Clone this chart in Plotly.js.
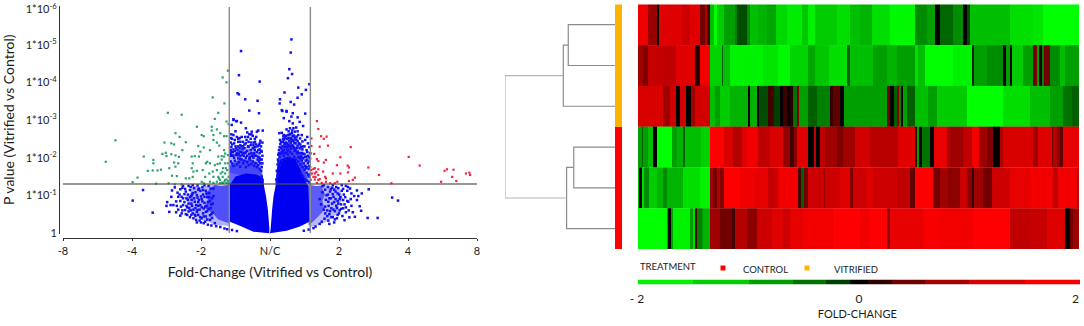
<!DOCTYPE html>
<html><head><meta charset="utf-8">
<script src="https://cdn.plot.ly/plotly-3.0.1.min.js"></script>
<style>html,body{margin:0;padding:0;background:#fff}</style></head>
<body><div id="chart" style="width:1084px;height:326px"></div>
<script>
// ---------- Volcano data: x = signed log2 fold-change, y = -log10(p) ----------
const volcanoTickPos = [-3,-2,-1,0,1,2,3];
const volcanoTickText = ['-8','-4','-2','N/C','2','4','8'];
const pTickPos = [0,1,2,3,4,5,5.94];
const pTickText = ['1','1*10<sup>-1</sup>','1*10<sup>-2</sup>','1*10<sup>-3</sup>','1*10<sup>-4</sup>','1*10<sup>-5</sup>','1*10<sup>-6</sup>'];
const foldCut = [-0.59,0.585];
const pCut = 1.3;

const greenPoints = [[-2.38,1.89],[-2.24,2.46],[-1.99,1.35],[-1.92,1.47],[-1.83,2.03],[-1.77,1.65],[-1.7,1.66],[-1.69,1.94],[-1.69,1.85],[-1.63,1.66],[-1.65,1.31],[-1.58,1.68],[-1.56,2.1],[-1.51,2.13],[-1.53,2.4],[-1.48,3.19],[-1.28,3.14],[-1.43,2.38],[-1.39,2.35],[-1.37,2.65],[-1.31,2.55],[-1.22,2.41],[-1.06,2.82],[-.99,2.6],[-.96,2.57],[-1.04,2.31],[-.96,2.27],[-.845,2.82],[-.83,3.6],[-.75,3.19],[-.8,3.03],[-.686,4.13],[-.61,4.31],[-.63,4],[-.66,3.44],[-.63,2.96],[-.6,2.89],[-.845,2.72],[-.77,2.75],[-.82,2.6],[-.72,2.65],[-.665,2.57],[-.63,2.57],[-.82,2.47],[-.77,2.4],[-.735,2.32],[-.87,2.2],[-.665,2.2],[-.7,2.04],[-.75,2.03],[-.65,2.11],[-.61,2.07],[-1.5,2.04],[-1.43,2.09],[-1.37,2.06],[-1.39,1.87],[-1.33,1.85],[-1.32,2.02],[-1.27,2.2],[-1.46,1.72],[-1.37,1.76],[-1.42,1.52],[-1.35,1.51],[-1.47,1.32],[-1.38,1.29],[-1.28,1.29],[-1.22,1.45],[-1.17,1.45],[-1.12,1.49],[-1.135,2.03],[-1.09,2.04],[-1.03,2.03],[-1.12,1.85],[-1.135,1.72],[-1.11,1.63],[-1.06,1.65],[-1.01,2.16],[-.975,1.67],[-.93,1.85],[-.91,1.89],[-.87,1.85],[-.94,1.49],[-.99,1.36],[-.96,1.32],[-.88,1.58],[-.83,1.63],[-.8,1.8],[-.76,1.83],[-.725,1.85],[-.7,1.95],[-.665,2.03],[-.82,1.49],[-.77,1.67],[-.75,1.49],[-.715,1.58],[-.68,1.72],[-.65,1.85],[-.61,1.85],[-.87,1.36],[-.82,1.33],[-.77,1.36],[-.725,1.41],[-.686,1.49],[-.65,1.58],[-.62,1.67],[-.6,1.49],[-.68,1.33],[-.63,1.33],[-.59,1.36],[-.725,1.32],[-.65,1.41],[-.6,1.32],[-.7,1.34],[-.66,1.36],[-.63,1.42],[-.61,1.38],[-.74,1.45],[-.69,1.62],[-.64,1.72]];

const redPoints = [[.68,2.97],[.7,2.76],[.6,2.51],[.74,2.57],[.78,2.5],[.82,2.56],[.84,2.32],[.72,2.29],[.6,2.31],[1.17,2.28],[.59,2.11],[.64,2.1],[1.02,2.01],[2.01,2.02],[.68,1.96],[.7,1.91],[.78,1.87],[.81,1.94],[.97,1.8],[1.125,1.79],[1.145,1.74],[1.425,1.74],[2.17,1.79],[2.53,1.65],[2.565,1.69],[2.66,1.68],[.91,1.58],[1.02,1.58],[1.13,1.61],[1.58,1.54],[2.84,1.58],[2.89,1.6],[2.9,1.54],[2.64,1.49],[2.48,1.36],[2.7,1.38],[1.76,1.32],[.6,1.67],[.63,1.7],[.65,1.72],[.7,1.69],[.61,1.58],[.65,1.58],[.67,1.62],[.63,1.49],[.7,1.54],[.66,1.49],[.77,1.63],[.8,1.49],[.59,1.41],[.65,1.42],[.7,1.41],[.72,1.43],[.81,1.45],[.81,1.36],[.75,1.33],[.68,1.33],[.87,1.32],[.94,1.32],[.975,1.36],[1.145,1.38],[1.2,1.41],[1.23,1.47]];

const blueHigh = [[-.42,4.83],[-.45,4.19],[-.47,3.71],[-.45,3.68],[-.36,3.55],[-.18,3.51],[-.15,4.02],[-.3,3.25],[-.16,3.18],[-.53,3.02],[-.49,2.97],[-.42,2.93],[.31,5.14],[.3,4.79],[.28,4.35],[.32,4.22],[.26,4.11],[.57,3.95],[.41,3.86],[.52,3.8],[.21,3.73],[.46,3.68],[.4,3.59],[.145,3.55],[.3,3.48],[.14,3.44],[.35,3.41],[.18,3.24],[.24,3.24],[.51,3.17],[.33,3.18],[.2,3.05],[.31,3.09],[.4,3.07],[.28,2.97],[.43,2.95],[.33,2.91],[.48,2.84],[.17,3.26],[.24,3.22]];

const blueLeftLobe = [[-.53,3],[-.48,2.97],[-.555,2.87],[-.35,2.78],[-.33,2.67],[-.265,2.69],[-.17,2.72],[-.105,2.72],[-.19,2.69],[-.53,2.6],[-.51,2.47],[-.43,2.33],[-.34,2.47],[-.217,2.42],[-.24,2.33],[-.31,2.29],[-.12,2.16],[-.17,2.2],[-.56,2.62],[-.5,2.7],[-.44,2.52],[-.39,2.42],[-.46,2.42],[-.28,2.5],[-.14,2.45],[-.2,2.55],[-.25,2.58],[-.3,2.62],[-.37,2.35],[-.41,2.55],[-.23,2.27],[-.18,2.3],[-.13,2.3],[-.56,2.15],[-.57,2.4],[-.56,2.28],[-.54,2.15],[-.5,2.3],[-.47,2.2],[-.45,2.1],[-.55,2.05],[-.52,2],[-.49,2.08],[-.46,1.98],[-.42,2.15],[-.4,2.22],[-.38,2.05],[-.36,2.12],[-.33,2.18],[-.3,2.1],[-.28,2.2],[-.26,2.05],[-.23,2.12],[-.2,2.05],[-.18,1.95],[-.15,2],[-.14,1.85],[-.57,1.9],[-.55,1.85],[-.53,1.78],[-.51,1.92],[-.48,1.82],[-.45,1.88],[-.43,1.76],[-.41,1.95],[-.39,1.85],[-.37,1.92],[-.35,1.75],[-.33,1.88],[-.31,1.8],[-.29,1.95],[-.27,1.83],[-.25,1.9],[-.23,1.78],[-.21,1.85],[-.19,1.75],[-.17,1.8],[-.15,1.7],[-.13,1.65],[-.12,1.5],[-.11,1.4],[-.57,2.52],[-.52,2.38],[-.48,2.55],[-.44,2.25],[-.39,2.3],[-.35,2.38],[-.32,2.55],[-.27,2.4],[-.22,2.5],[-.15,2.22],[-.11,1.85],[-.11,2.05],[-.12,1.75],[-.53,2.22],[-.48,2.12],[-.43,2.05],[-.35,2],[-.29,2.02],[-.24,2],[-.16,1.9],[-.22,2.2],[-.4,2.08],[-.57,2.05],[-.57,2.2],[-.57,2.1],[-.55,2.35],[-.53,2.06],[-.51,2.18],[-.49,2.25],[-.47,2.06],[-.46,2.3],[-.44,2.16],[-.43,1.97],[-.41,2.3],[-.39,2.13],[-.37,2.25],[-.35,2.15],[-.33,2.05],[-.32,2.3],[-.3,1.98],[-.28,2.33],[-.27,2.12],[-.25,2.25],[-.24,2.08],[-.22,2.05],[-.21,2.28],[-.19,2.15],[-.17,2.02],[-.16,2.33],[-.15,2.12],[-.14,1.95],[-.13,2.18],[-.12,1.95],[-.46,2.5],[-.36,2.55],[-.27,2.62],[-.55,2.5],[-.43,2.42],[-.31,2.42],[-.23,2.4],[-.2,2.35],[-.15,2.38],[-.11,2.4]];

const blueRightLobe = [[.136,2.65],[.17,2.66],[.194,2.57],[.24,2.75],[.29,2.78],[.34,2.78],[.38,2.8],[.266,2.6],[.315,2.65],[.36,2.69],[.387,2.56],[.435,2.51],[.51,2.47],[.145,2.47],[.184,2.42],[.218,2.38],[.25,2.5],[.28,2.44],[.31,2.52],[.34,2.46],[.37,2.38],[.4,2.44],[.44,2.35],[.47,2.22],[.5,2.3],[.54,2.15],[.57,2.28],[.13,2.2],[.16,2.25],[.19,2.18],[.22,2.28],[.25,2.2],[.27,2.3],[.3,2.24],[.33,2.32],[.36,2.18],[.39,2.26],[.42,2.12],[.45,2.05],[.48,1.98],[.52,1.92],[.55,1.85],[.58,1.98],[.115,1.95],[.14,2.02],[.17,1.92],[.2,2.05],[.23,1.98],[.26,2.08],[.29,2],[.32,2.1],[.35,2.02],[.38,1.95],[.41,1.9],[.44,1.82],[.47,1.75],[.5,1.68],[.53,1.6],[.56,1.7],[.58,1.55],[.1,1.65],[.12,1.72],[.15,1.8],[.45,1.58],[.48,1.5],[.51,1.42],[.54,1.38],[.57,1.35],[.09,1.42],[.11,1.52],[.15,2.36],[.23,2.4],[.3,2.4],[.35,2.58],[.41,2.6],[.2,2.48],[.26,2.33],[.47,2.43],[.55,2.38],[.12,2.08],[.18,2.12],[.24,2.13],[.29,2.15],[.35,2.25],[.4,2.16],[.43,2.25],[.48,2.1],[.53,2.03],[.57,1.78],[.55,1.55],[.51,1.78],[.46,1.92],[.43,2],[.58,2.12],[.11,1.82],[.13,1.58],[.1,1.35],[.27,2.7],[.2,2.6],[.32,2.72],[.4,2.7],[.22,2.52],[.46,2.6],[.54,2.55],[.12,1.9],[.13,2.12],[.14,2.28],[.15,2.1],[.16,2.42],[.17,2.15],[.18,2.3],[.19,2.5],[.2,2.2],[.21,2.35],[.22,2.12],[.23,2.58],[.24,2.28],[.25,2.38],[.26,2.2],[.27,2.52],[.28,2.3],[.29,2.62],[.3,2.5],[.31,2.32],[.32,2.45],[.33,2.58],[.34,2.28],[.35,2.4],[.36,2.52],[.37,2.22],[.38,2.48],[.39,2.12],[.4,2.32],[.41,2.02],[.42,2.38],[.43,2.12],[.44,1.98],[.45,2.28],[.46,2.12],[.47,2],[.48,2.3],[.49,1.85],[.5,2.1],[.51,2.02],[.52,1.72],[.53,2.2],[.54,1.95],[.55,2.05],[.56,1.9],[.57,2.02],[.58,1.75],[.56,1.5],[.53,1.75]];

const blueLeftShoulder = [[-1.99,.86],[-1.84,1.14],[-1.7,.54],[-1.5,.72],[-1.46,.56],[-1.49,.82],[-1.43,.96],[-1.34,1.07],[-1.38,1.21],[-1.4,.74],[-1.33,.96],[-1.26,.74],[-1.23,.61],[-1.18,.57],[-1.11,.39],[-1.07,.35],[-1.21,.92],[-1.16,1.14],[-1.1,1.19],[-1.06,1],[-1.135,.88],[-1.01,.74],[-1.05,.61],[-.97,.52],[-.99,.39],[-.87,.35],[-.94,.3],[-.8,.26],[-1.27,1.2],[-1.22,1.1],[-1.28,.96],[-1.24,1.03],[-1.19,1.02],[-1.14,.98],[-1.18,.78],[-1.13,.72],[-1.09,.83],[-1.08,.66],[-1.15,.6],[-1.12,.52],[-1.04,.48],[-1.03,.88],[-1.01,1.12],[-.98,1.22],[-.97,1.02],[-.99,.9],[-.95,.8],[-.96,.65],[-.93,.44],[-.91,.58],[-.92,.72],[-.91,.95],[-.93,1.12],[-.89,1.25],[-.88,1.06],[-.87,.85],[-.86,.66],[-.85,.5],[-.84,.4],[-.83,.78],[-.82,.98],[-.82,1.18],[-1.33,.62],[-1.28,.52],[-1.36,.84],[-1.3,1.16],[-1.2,.48],[-1.16,.42],[-1.08,.45],[-1.02,.33],[-.96,.26],[-.9,.22],[-.85,.2],[-.78,.18],[-.72,.16],[-.66,.12],[-.62,.1],[-.55,.08],[-.48,.05],[-1.12,1.27],[-1.18,1.25],[-1.05,1.26],[-1.04,1.15],[-1.12,1.06],[-1.2,.68],[-1.04,.72],[-1.3,.85],[-1.26,1.25],[-1.42,1.13],[-.95,1.27],[-1.24,.82],[-1.21,.72],[-1.19,.88],[-1.17,.66],[-1.16,.95],[-1.14,.78],[-1.13,1.02],[-1.11,.62],[-1.1,.92],[-1.09,.48],[-1.08,1.08],[-1.07,.74],[-1.06,.56],[-1.05,.94],[-1.04,.82],[-1.03,1.18],[-1.02,.62],[-1.01,.42],[-1,.97],[-.99,.68],[-.98,.84],[-.97,1.14],[-.96,.44],[-.95,.96],[-.94,.7],[-.93,.56],[-.92,1.05],[-.91,.36],[-.9,.82],[-.89,.64],[-.88,.95],[-.87,.47],[-.86,1.18],[-.85,.76],[-.84,.92],[-.83,.54],[-1.26,.92],[-1.29,.7],[-1.31,1.02],[-1.35,.72],[-1.23,1.17],[-1.15,1.22],[-1.36,.55],[-1.44,.74],[-1.27,.6],[-1.22,.5],[-1.14,.48],[-1.3,.46],[-1.06,.28],[-1,.28]];

const blueRightShoulder = [[1.43,1.16],[1.26,1.13],[1.1,1.25],[1.06,1.17],[.99,1.19],[1.77,.94],[1.855,.86],[1.22,.98],[1.26,.875],[1.17,.9],[1.135,.83],[1.06,.875],[1.01,.9],[1.3,.71],[1.32,.59],[1.15,.415],[1.23,.43],[1.415,.4],[1.56,.4],[1.06,.655],[.98,.48],[.97,.39],[.845,.33],[.75,.3],[.66,.17],[.92,.96],[.87,1.1],[.845,.83],[.8,.7],[.89,.655],[.8,.52],[.82,1],[.84,1.22],[.9,1.2],[.93,.82],[.96,.72],[.86,.5],[.91,.42],[.94,.58],[1,1.02],[1.03,.76],[1.09,.95],[.79,.38],[.83,.6],[.72,.24],[.63,.13],[.56,.09],[.49,.06],[.76,1.24],[.95,1.1],[1.12,1.12],[1.01,.6],[1.1,.55],[.93,.28],[.86,.24],[1.18,1.05],[.98,.85],[.88,.92],[.78,1.27],[.91,1.27],[1.04,1.27],[.72,.9],[.74,.76],[.76,1.08],[.78,.62],[.8,1.15],[.81,.88],[.83,.45],[.84,1.02],[.85,.72],[.86,.92],[.87,.58],[.88,1.16],[.89,.42],[.9,.78],[.91,1.03],[.92,.62],[.93,1.15],[.94,.36],[.95,.9],[.96,1.22],[.97,.66],[.98,1.05],[.99,.78],[1,.52],[1.02,.95],[1.03,.64],[1.04,1.12],[1.05,.45],[1.07,1.02],[1.08,.76],[1.1,.68],[1.12,.85],[1.14,.6],[1.16,1.18],[1.18,.72],[1.2,.55],[1.08,.34],[1.13,1.22],[1.28,.98],[1.33,1.05]];

// Density contours of the cloud: solid, dense, speckled
const denseCoreLeftX = [-.58,-.43,-.24,-.01,-.009,-.03,-.057,-.087,-.095,-.2,-.35,-.5,-.58];
const denseCoreLeftY = [.3,.185,.035,-.01,.12,.61,.96,1.25,1.45,1.55,1.58,1.5,1.28];
const denseCoreRightX = [0,.01,.03,.05,.08,.1,.15,.25,.36,.44,.52,.56,.57,.435,.24];
const denseCoreRightY = [-.01,.12,.61,.96,1.25,1.7,1.95,2.02,1.98,1.7,1.35,1.25,.3,.17,.06];
const midContours = [
  {x:[-.58,-.58,-.42,-.25,-.15,-.11,-.1], y:[1.6,2.15,2.3,2.25,2.1,1.8,1.4], a:.3},
  {x:[.09,.13,.2,.33,.42,.5,.58,.58,.3], y:[1.6,2.2,2.6,2.7,2.45,2.1,1.6,1.3,1.4], a:.3},
  {x:[-.58,-.7,-.85,-1,-1.12,-1.16,-1.24,-1.18,-1.2,-1.08,-1.02,-.9,-.8,-.66,-.58], y:[1.28,1.26,1.28,1.22,1.26,1.05,.95,.75,.6,.48,.36,.3,.22,.2,.18], a:.3},
  {x:[.56,.7,.84,.94,1.02,1.06,1,1.02,.92,.84,.72,.56], y:[1.28,1.25,1.28,1.2,1.14,.9,.72,.56,.44,.32,.22,.15], a:.28},
  {x:[-.58,-.58,-.45,-.3,-.18,-.12,-.09], y:[1.2,1.8,1.95,1.95,1.88,1.6,1.25], a:.6},
  {x:[.09,.11,.17,.3,.38,.47,.55,.5,.3], y:[1.3,1.9,2.3,2.4,2.25,1.9,1.4,1.3,1.4], a:.6},
  {x:[-.58,-.72,-.8,-.94,-.9,-.94,-.82,-.75,-.66,-.58], y:[1.28,1.25,1.28,1.05,.9,.66,.5,.36,.3,.25], a:.55},
  {x:[.56,.66,.74,.8,.76,.79,.7,.62,.56], y:[1.28,1.25,1.26,1.02,.86,.62,.44,.3,.2], a:.5}
];

// ---------- Heatmap: per row, blocks of [end position in gene order, fold-change] ----------
const row0 = [[10,1.85],[19,1.2],[21,0],[34,1.75],[44,1.75],[52,1.6],[62,1.75],[67,.9],[69,1.4],[72,.5],[76,-1.5],[79,-2],[86,-1.6],[97,-1.25],[99,-1],[109,-.6],[112,-1.1],[120,-1.5],[129,-1.4],[138,-1.3],[149,-1.7],[164,-1.85],[170,-1.55],[177,-1.9],[199,-1.6],[212,-1.75],[222,-1.5],[234,-1.4],[252,-1.75],[277,-1.95],[289,-1.1],[297,-1.25],[302,0],[315,-.8],[325,-1.1],[329,0],[332,-.6],[372,-1.5],[395,-1.75],[405,-1.8],[441,-2]];
const row1 = [[5,1.25],[10,1],[25,1.55],[38,1.5],[47,1.75],[57,1.75],[62,.3],[72,1.9],[84,-1.65],[85,-.6],[92,-1.5],[125,-1.9],[140,-1.8],[152,-1.95],[170,-1.65],[177,-1.3],[191,-1.55],[209,-1.75],[212,-.75],[235,-1.5],[249,-1.25],[259,-1.4],[277,-1.25],[280,-1.75],[287,-1.5],[315,-2],[334,-1.9],[336,-.3],[349,-1.25],[365,-1.1],[368,0],[372,-1.25],[374,0],[385,-1.6],[395,-1.25],[399,.9],[401,-1.25],[404,0],[406,-1],[412,.9],[422,-1.1],[427,-1.5],[441,-1.25]];
const row2 = [[25,1.7],[32,1.25],[38,1.65],[42,0],[48,1.65],[53,0],[57,1.25],[72,1.65],[77,-1.5],[82,-1.25],[92,-1.6],[110,-1.4],[112,0],[119,-1.4],[121,0],[130,-.6],[134,.5],[136,.6],[142,-.5],[145,0],[149,.5],[152,0],[155,.3],[159,-.9],[161,1],[170,-1.25],[179,-.75],[192,-1],[195,.4],[202,.75],[206,0],[249,-1.25],[252,.9],[256,0],[259,-.75],[261,1.1],[263,-1],[265,0],[269,-1.25],[277,-.75],[290,-1.5],[299,-1.25],[329,-1.6],[365,-2],[392,-1.75],[412,-1.5],[425,-1.25],[434,-.9],[441,-.75]];
const row3 = [[4,-1.25],[5,-.75],[10,-1.25],[15,-1.5],[19,0],[34,-2],[39,-1.25],[45,-1.4],[47,-.75],[63,-1.5],[72,-1.65],[86,2],[95,1.7],[104,1.4],[109,1.75],[120,1.9],[132,1.5],[145,1.7],[152,1.15],[156,.5],[159,1.1],[170,1.75],[176,0],[178,1.5],[182,0],[187,1.5],[199,1.25],[205,1],[217,1.25],[232,1.65],[260,1.45],[277,1.75],[279,.4],[281,-1.25],[284,0],[292,-.9],[296,0],[309,1.8],[312,1.4],[325,1.25],[334,1.5],[341,1.9],[349,1.25],[355,1],[362,0],[365,1.4],[395,1.7],[400,1.25],[414,1.75],[415,.9],[419,1.4],[422,1.1],[425,.75],[441,1.8]];
const row4 = [[1,-1.5],[4,0],[6,-1.75],[11,-1.1],[19,-1.6],[25,-1.4],[29,-1.1],[45,-1.4],[62,-1.75],[72,-1.9],[75,1.25],[79,.9],[82,1.4],[86,1],[102,2],[115,1.9],[130,1.8],[140,1.55],[160,1.9],[163,.5],[166,-.75],[170,.9],[185,1.6],[187,1.25],[202,1.6],[212,1.75],[215,1],[229,1.6],[235,1.75],[259,1.6],[272,1.5],[277,.75],[295,2],[302,.9],[310,1.25],[322,1.1],[329,1.6],[334,1.1],[336,.4],[345,1.25],[354,.9],[372,1.6],[392,1.8],[415,1.9],[420,1.5],[439,1.9],[441,1.5]];
const row5 = [[29,-2],[30,-1.25],[33,0],[35,-1.25],[52,-1.9],[55,-1.25],[57,-1.75],[59,.6],[64,-1],[65,-1.25],[72,-1.4],[82,1.25],[94,.9],[97,.5],[109,1.4],[119,1.1],[134,1.6],[145,1.75],[152,1.6],[165,1.8],[195,1.9],[222,2],[232,1.9],[249,2],[252,1.1],[285,1.8],[302,1.95],[335,1.9],[372,2],[392,1.5],[409,1.55],[427,1.75],[432,0],[435,.9],[441,1.25]];
const heatRows = [row0,row1,row2,row3,row4,row5];
const rowTreatment = [[1],[1],[1],[0],[0],[0]]; // 1 vitrified, 0 control

// Dendrogram links: heights (0 = leaf, 1 = root), y in row units
const dendroX = [[0,.425,.425,0],[.425,.47,.47,0],[0,.375,.375,0],[.375,.44,.44,0]];
const dendroY = [[0,0,1,1],[.5,.5,2,2],[3,3,4,4],[3.5,3.5,5,5]];
const rootX = [.47,1,1,.44];
const rootY = [1.25,1.25,4.25,4.25];

// Colour key
const keyEdges = [-2,-1.5,-1,-.6,-.3,-.08,.08,.3,.6,1,1.5,2];
const keyValues = [-1.9,-1.6,-1.25,-.9,-.5,0,.4,.9,1.3,1.7,1.95];
const keyTickPos = [-2.01,0,1.96];
const keyTickText = ['- 2','0','2'];

// ---------- Build ----------
const W=1084,H=326;
const fx=p=>p/W, fy=p=>1-p/H;
const FONT='Lato, "Open Sans", sans-serif';
const heatScale=[[0,'#00ff00'],[.5,'#000000'],[1,'#ff0000']];
const xs=a=>a.map(p=>p[0]), ys=a=>a.map(p=>p[1]);
const traces=[];
const allBlue=[...blueHigh,...blueLeftLobe,...blueRightLobe,...blueLeftShoulder,...blueRightShoulder];
const area=(x,y,c)=>({type:'scatter',mode:'none',x,y,fill:'toself',fillcolor:c,hoverinfo:'skip',showlegend:false,xaxis:'x',yaxis:'y'});
midContours.forEach(e=>traces.push(area(e.x,e.y,`rgba(0,0,245,${e.a})`)));
traces.push(area(denseCoreLeftX,denseCoreLeftY,'#0000f0'),area(denseCoreRightX,denseCoreRightY,'#0000f0'));
const pts=(a,color,s)=>({type:'scatter',mode:'markers',x:xs(a),y:ys(a),marker:{symbol:'square',size:s,color:color,line:{width:0}},cliponaxis:false,showlegend:false,xaxis:'x',yaxis:'y'});
traces.push(pts(allBlue,'#1010f0',2.5),pts(greenPoints,'#2ba36f',2.2),pts(redPoints,'#f5203f',2.2));

heatRows.forEach((r,i)=>{
  const edges=[0,...r.map(b=>b[0])];
  traces.push({type:'heatmap',x:edges,y:[i-.5,i+.5],z:[r.map(b=>b[1])],zmin:-2,zmax:2,colorscale:heatScale,showscale:false,xaxis:'x2',yaxis:'y2',zsmooth:false});
});
dendroX.forEach((d,i)=>traces.push({type:'scatter',mode:'lines',x:d,y:dendroY[i],line:{color:'#8c8c8c',width:1.2},showlegend:false,xaxis:'x3',yaxis:'y2'}));
traces.push({type:'scatter',mode:'lines',x:rootX,y:rootY,line:{color:'#b4b4b4',width:1.2},showlegend:false,xaxis:'x3',yaxis:'y2'});
traces.push({type:'heatmap',z:rowTreatment,x:[0],y:[0,1,2,3,4,5],zmin:0,zmax:1,colorscale:[[0,'#ff0000'],[1,'#ffb400']],showscale:false,xaxis:'x4',yaxis:'y2'});
traces.push({type:'heatmap',x:keyEdges,y:[0,1],z:[keyValues],zmin:-2,zmax:2,colorscale:heatScale,showscale:false,xaxis:'x5',yaxis:'y5'});

const hidden={visible:false,fixedrange:true};
const line=(x0,y0,x1,y1,c,w)=>({type:'line',xref:'x',yref:'y',x0,y0,x1,y1,line:{color:c,width:w},layer:'above'});
const TXT='#1c1c1c';
const layout={
  width:W,height:H,margin:{l:0,r:0,t:0,b:0},paper_bgcolor:'#fff',plot_bgcolor:'rgba(0,0,0,0)',showlegend:false,
  font:{family:FONT,color:TXT},
  xaxis:{domain:[fx(63),fx(477)],range:[-3,3],anchor:'free',position:fy(238),tickmode:'array',tickvals:volcanoTickPos,ticktext:volcanoTickText,
    showgrid:false,zeroline:false,showline:true,linecolor:'#333',linewidth:1.3,ticks:'outside',ticklen:2,tickcolor:'#333',tickfont:{size:11,color:TXT,family:FONT},
    title:{text:'Fold-Change (Vitrified vs Control)',font:{size:14,color:TXT,family:FONT},standoff:11}},
  yaxis:{domain:[fy(234),fy(5.5)],range:[-.027,6.04],anchor:'free',position:fx(59),tickmode:'array',tickvals:pTickPos,ticktext:pTickText,ticklabeloverflow:'allow',
    showgrid:false,zeroline:false,showline:true,linecolor:'#333',linewidth:1.3,ticks:'',tickfont:{size:11,color:TXT,family:FONT},
    title:{text:'P value (Vitrified vs Control)',font:{size:14,color:TXT,family:FONT},standoff:6}},
  xaxis2:{...hidden,domain:[fx(638),fx(1079)],range:[0,441],anchor:'y2'},
  yaxis2:{...hidden,domain:[fy(249),fy(4.3)],range:[5.5,-.5],anchor:'x2'},
  xaxis3:{...hidden,domain:[fx(505),fx(615)],range:[1,0],anchor:'y2'},
  xaxis4:{...hidden,domain:[fx(615),fx(622)],range:[-.5,.5],anchor:'y2'},
  xaxis5:{domain:[fx(634.7),fx(1080)],range:[-2.03,2],anchor:'y5',tickmode:'array',tickvals:keyTickPos,ticktext:keyTickText,showgrid:false,zeroline:false,showline:false,
    ticks:'outside',ticklen:3,tickcolor:'rgba(0,0,0,0)',tickfont:{size:12,color:TXT,family:FONT},
    title:{text:'FOLD-CHANGE',font:{size:11,color:TXT,family:FONT},standoff:5}},
  yaxis5:{...hidden,domain:[fy(284.5),fy(279.5)],range:[0,1],anchor:'x5'},
  shapes:[
    line(foldCut[0],0,foldCut[0],6,'#8a8a8a',1.4),
    line(foldCut[1],0,foldCut[1],6,'#8a8a8a',1.4),
    line(-3,pCut,3,pCut,'rgba(80,80,80,0.8)',1.6),
    {type:'rect',xref:'paper',yref:'paper',x0:fx(720.5),x1:fx(725.5),y0:fy(270.5),y1:fy(265.5),fillcolor:'#ff0000',line:{width:0}},
    {type:'rect',xref:'paper',yref:'paper',x0:fx(804.5),x1:fx(809.5),y0:fy(270.5),y1:fy(265.5),fillcolor:'#ffb400',line:{width:0}}
  ],
  annotations:[
    {text:'TREATMENT',xref:'paper',yref:'paper',x:fx(638),y:fy(266),xanchor:'left',yanchor:'middle',showarrow:false,font:{size:9.5,color:TXT,family:FONT}},
    {text:'CONTROL',xref:'paper',yref:'paper',x:fx(741),y:fy(269),xanchor:'left',yanchor:'middle',showarrow:false,font:{size:9.5,color:TXT,family:FONT}},
    {text:'VITRIFIED',xref:'paper',yref:'paper',x:fx(832),y:fy(269),xanchor:'left',yanchor:'middle',showarrow:false,font:{size:9.5,color:TXT,family:FONT}}
  ]
};
Plotly.newPlot('chart',traces,layout,{displayModeBar:false,staticPlot:true});
</script></body></html>
